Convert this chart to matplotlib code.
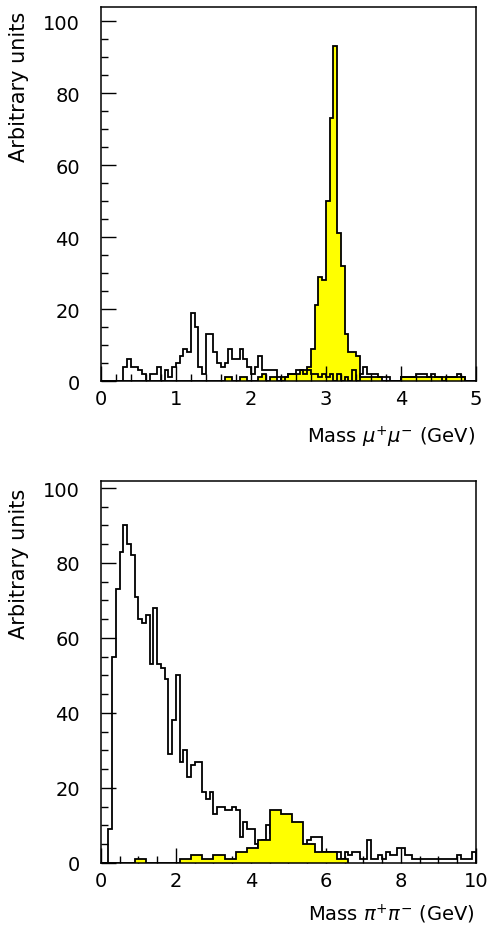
import numpy as np
import matplotlib
matplotlib.use("Agg")
import matplotlib.pyplot as plt
from matplotlib.ticker import MultipleLocator

plt.rcParams['font.family'] = ['DejaVu Sans']
plt.rcParams['mathtext.fontset'] = 'dejavusans'

# top panel: mu+ mu- mass, 0.05 GeV bins from 0 to 5 GeV
mumu_open = [0, 0, 0, 0, 0, 0, 4, 6, 4, 4,
             3, 2, 0, 2, 2, 4, 0, 3, 1, 4,
             5, 7, 9, 8, 19, 15, 4, 2, 13, 13,
             8, 5, 4, 5, 9, 6, 6, 9, 6, 4,
             2, 4, 7, 3, 3, 3, 3, 1, 0, 1,
             2, 2, 3, 3, 2, 3, 2, 2, 1, 2,
             1, 2, 0, 2, 0, 1, 0, 3, 0, 2,
             4, 2, 2, 2, 1, 1, 1, 0, 0, 0,
             1, 1, 1, 1, 2, 2, 2, 1, 2, 1,
             1, 0, 1, 1, 1, 2, 1, 0, 0, 0]
mumu_fill = [0, 0, 0, 0, 0, 0, 0, 0, 0, 0,
             0, 0, 0, 0, 0, 0, 0, 0, 0, 0,
             0, 0, 0, 0, 0, 0, 0, 0, 0, 0,
             0, 0, 0, 1, 1, 0, 0, 1, 1, 0,
             0, 0, 1, 2, 0, 1, 1, 0, 1, 1,
             2, 2, 2, 3, 3, 4, 9, 21, 29, 28,
             50, 73, 93, 41, 32, 13, 8, 8, 7, 1,
             1, 1, 1, 1, 1, 0, 0, 0, 0, 0,
             1, 1, 1, 1, 1, 1, 1, 1, 1, 1,
             1, 1, 1, 1, 1, 1, 1, 0, 0, 0]

# bottom panel: pi+ pi- mass, 0.1 GeV bins (open), 0.3 GeV bins (filled)
pipi_open = [0, 0, 9, 55, 73, 83, 90, 85, 82, 71,
             65, 64, 66, 53, 68, 53, 52, 49, 29, 38,
             50, 27, 30, 23, 26, 27, 27, 19, 17, 19,
             13, 15, 15, 14, 14, 15, 14, 7, 11, 9,
             9, 5, 4, 6, 10, 8, 7, 6, 8, 7,
             6, 7, 6, 5, 4, 6, 7, 7, 7, 3,
             3, 3, 3, 3, 1, 3, 2, 3, 3, 1,
             1, 6, 1, 1, 2, 1, 3, 2, 2, 4,
             4, 2, 2, 1, 1, 1, 1, 1, 1, 1,
             1, 1, 1, 1, 1, 2, 1, 1, 1, 3]
pipi_fill = [0, 0, 0, 1, 0, 0, 0, 1, 2, 1, 2,
             1, 3, 4, 6, 14, 13, 11, 5, 3, 3, 1]

mumu_edges = np.linspace(0, 5, len(mumu_open) + 1)
pipi_edges = np.linspace(0, 10, len(pipi_open) + 1)
pipi_fill_edges = np.linspace(0, 0.3 * len(pipi_fill), len(pipi_fill) + 1)


def style_axes(ax, xmaj, xmin):
    ax.xaxis.set_major_locator(MultipleLocator(xmaj))
    ax.xaxis.set_minor_locator(MultipleLocator(xmin))
    ax.yaxis.set_major_locator(MultipleLocator(20))
    ax.yaxis.set_minor_locator(MultipleLocator(5))
    ax.tick_params(which='both', direction='in', top=False, right=False,
                   width=1.0, labelsize=14)
    ax.tick_params(which='major', length=10.5)
    ax.tick_params(which='minor', length=5.2)
    ax.tick_params(axis='x', pad=6)
    ax.tick_params(axis='y', pad=15)
    for s in ax.spines.values():
        s.set_linewidth(1.1)


fig = plt.figure(figsize=(4.9, 9.29), dpi=100)

ax1 = fig.add_axes([0.2061, 0.5888, 0.7653, 0.4030])
ax1.stairs(mumu_fill, mumu_edges, fill=True, facecolor='#ffff00',
           edgecolor='none', zorder=1)
ax1.stairs(mumu_fill, mumu_edges, color='black', lw=1.3, zorder=2)
ax1.stairs(mumu_open, mumu_edges, color='black', lw=1.3, zorder=3)
ax1.set_xlim(0, 5)
ax1.set_ylim(0, 104)
style_axes(ax1, 1, 0.2)
ax1.text(-0.218, 0.99, 'Arbitrary units', transform=ax1.transAxes,
         rotation=90, ha='center', va='top', fontsize=15)
ax1.text(0.997, -0.147, r'Mass $\mu^{+}\mu^{-}$ (GeV)', transform=ax1.transAxes,
         ha='right', va='center', fontsize=14)

ax2 = fig.add_axes([0.2061, 0.0700, 0.7653, 0.4117])
ax2.stairs(pipi_open, pipi_edges, color='black', lw=1.3, zorder=1)
ax2.stairs(pipi_fill, pipi_fill_edges, fill=True, facecolor='#ffff00',
           edgecolor='none', zorder=2)
ax2.stairs(pipi_fill, pipi_fill_edges, color='black', lw=1.3, zorder=3)
ax2.set_xlim(0, 10)
ax2.set_ylim(0, 102)
style_axes(ax2, 2, 0.5)
ax2.text(-0.218, 0.98, 'Arbitrary units', transform=ax2.transAxes,
         rotation=90, ha='center', va='top', fontsize=15)
ax2.text(0.997, -0.133, r'Mass $\pi^{+}\pi^{-}$ (GeV)', transform=ax2.transAxes,
         ha='right', va='center', fontsize=14)

fig.savefig('out.png', dpi=100)
